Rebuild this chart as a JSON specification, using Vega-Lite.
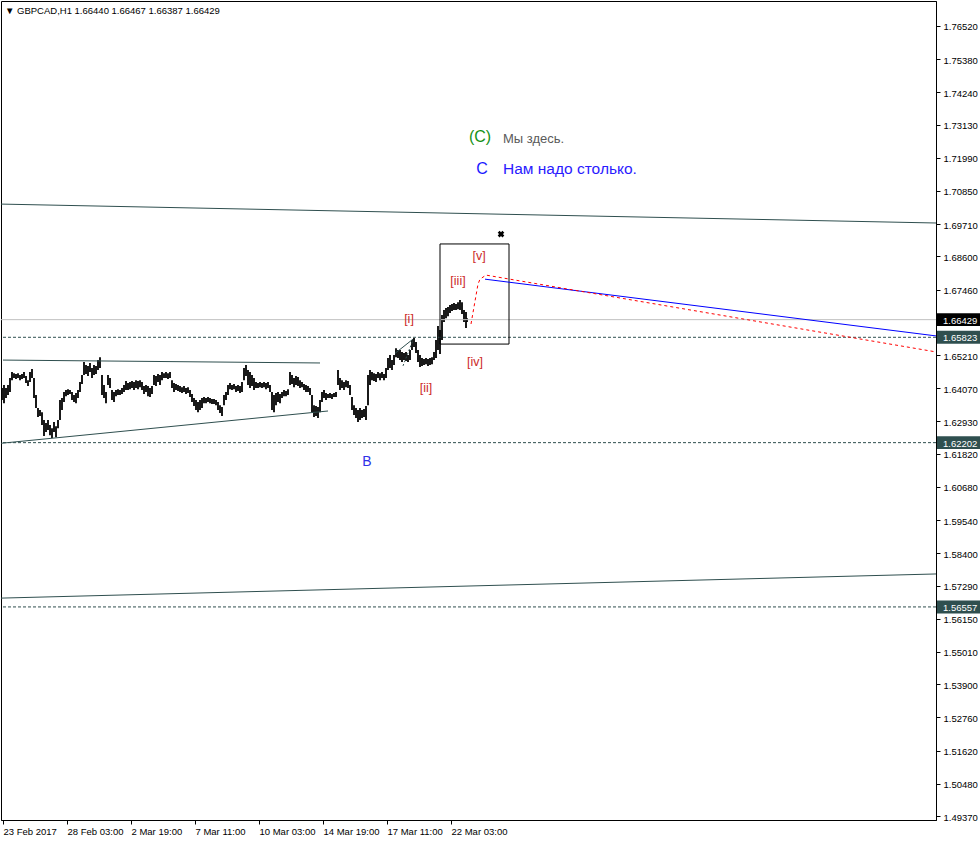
{
  "$schema": "https://vega.github.io/schema/vega-lite/v6.json",
  "width": 935,
  "height": 819,
  "autosize": {"type": "none"},
  "padding": {"left": 1, "top": 1, "right": 44, "bottom": 21},
  "background": "white",
  "config": {
    "view": {"stroke": "black", "strokeWidth": 1},
    "font": "Liberation Sans",
    "axis": {"labelOverlap": false, "labelBound": false, "labelFlush": false, "grid": false, "title": null, "tickColor": "black", "domainColor": "black", "labelColor": "black", "labelFont": "Liberation Sans", "labelFontSize": 9.5, "tickSize": 4}
  },
  "title": {"text": "▼ GBPCAD,H1  1.66440 1.66467 1.66387 1.66429", "anchor": "start", "frame": "group", "orient": "top", "offset": -14, "dx": 4, "fontSize": 9.5, "fontWeight": "normal", "font": "Liberation Sans", "color": "black"},
  "datasets": {
    "bars": [
      {"t":-1,"hi":1.6408,"lo":1.6367},{"t":1,"hi":1.6418,"lo":1.6356},{"t":3,"hi":1.6408,"lo":1.6374},{"t":5,"hi":1.6418,"lo":1.6384},
      {"t":7,"hi":1.6442,"lo":1.6394},{"t":9,"hi":1.6463,"lo":1.6435},{"t":11,"hi":1.6459,"lo":1.6442},{"t":13,"hi":1.6456,"lo":1.6439},
      {"t":15,"hi":1.6459,"lo":1.6442},{"t":17,"hi":1.6453,"lo":1.6435},{"t":19,"hi":1.6456,"lo":1.6439},{"t":21,"hi":1.6463,"lo":1.6442},
      {"t":23,"hi":1.6449,"lo":1.6425},{"t":25,"hi":1.6435,"lo":1.6415},{"t":27,"hi":1.6463,"lo":1.6429},{"t":29,"hi":1.6473,"lo":1.6442},
      {"t":31,"hi":1.6442,"lo":1.6374},{"t":33,"hi":1.6384,"lo":1.6339},{"t":35,"hi":1.6339,"lo":1.6308},{"t":37,"hi":1.6332,"lo":1.6312},
      {"t":39,"hi":1.6325,"lo":1.6281},{"t":41,"hi":1.6298,"lo":1.6243},{"t":43,"hi":1.6288,"lo":1.6257},{"t":45,"hi":1.6298,"lo":1.6264},
      {"t":47,"hi":1.6281,"lo":1.6246},{"t":49,"hi":1.6270,"lo":1.6236},{"t":51,"hi":1.6291,"lo":1.6257},{"t":53,"hi":1.6277,"lo":1.6239},
      {"t":55,"hi":1.6298,"lo":1.6270},{"t":57,"hi":1.6367,"lo":1.6298},{"t":59,"hi":1.6374,"lo":1.6332},{"t":61,"hi":1.6394,"lo":1.6360},
      {"t":63,"hi":1.6401,"lo":1.6380},{"t":65,"hi":1.6404,"lo":1.6384},{"t":67,"hi":1.6401,"lo":1.6387},{"t":69,"hi":1.6394,"lo":1.6367},
      {"t":71,"hi":1.6384,"lo":1.6360},{"t":73,"hi":1.6391,"lo":1.6356},{"t":75,"hi":1.6401,"lo":1.6374},{"t":77,"hi":1.6429,"lo":1.6394},
      {"t":79,"hi":1.6453,"lo":1.6422},{"t":81,"hi":1.6497,"lo":1.6453},{"t":83,"hi":1.6487,"lo":1.6456},{"t":85,"hi":1.6484,"lo":1.6449},
      {"t":87,"hi":1.6494,"lo":1.6463},{"t":89,"hi":1.6477,"lo":1.6442},{"t":91,"hi":1.6487,"lo":1.6453},{"t":93,"hi":1.6484,"lo":1.6456},
      {"t":95,"hi":1.6504,"lo":1.6470},{"t":97,"hi":1.6514,"lo":1.6477},{"t":99,"hi":1.6453,"lo":1.6384},{"t":101,"hi":1.6418,"lo":1.6374},
      {"t":103,"hi":1.6394,"lo":1.6356},{"t":105,"hi":1.6453,"lo":1.6418},{"t":107,"hi":1.6442,"lo":1.6408},{"t":109,"hi":1.6401,"lo":1.6367},
      {"t":111,"hi":1.6394,"lo":1.6360},{"t":113,"hi":1.6401,"lo":1.6380},{"t":115,"hi":1.6404,"lo":1.6384},{"t":117,"hi":1.6401,"lo":1.6384},
      {"t":119,"hi":1.6408,"lo":1.6387},{"t":121,"hi":1.6418,"lo":1.6394},{"t":123,"hi":1.6432,"lo":1.6401},{"t":125,"hi":1.6425,"lo":1.6401},
      {"t":127,"hi":1.6429,"lo":1.6404},{"t":129,"hi":1.6432,"lo":1.6408},{"t":131,"hi":1.6429,"lo":1.6401},{"t":133,"hi":1.6435,"lo":1.6408},
      {"t":135,"hi":1.6432,"lo":1.6404},{"t":137,"hi":1.6435,"lo":1.6411},{"t":139,"hi":1.6429,"lo":1.6401},{"t":141,"hi":1.6415,"lo":1.6387},
      {"t":143,"hi":1.6418,"lo":1.6394},{"t":145,"hi":1.6415,"lo":1.6380},{"t":147,"hi":1.6408,"lo":1.6377},{"t":149,"hi":1.6415,"lo":1.6387},
      {"t":151,"hi":1.6453,"lo":1.6418},{"t":153,"hi":1.6449,"lo":1.6415},{"t":155,"hi":1.6456,"lo":1.6429},{"t":157,"hi":1.6453,"lo":1.6418},
      {"t":159,"hi":1.6463,"lo":1.6435},{"t":161,"hi":1.6459,"lo":1.6442},{"t":163,"hi":1.6463,"lo":1.6442},{"t":165,"hi":1.6459,"lo":1.6439},
      {"t":167,"hi":1.6463,"lo":1.6442},{"t":169,"hi":1.6435,"lo":1.6408},{"t":171,"hi":1.6425,"lo":1.6394},{"t":173,"hi":1.6422,"lo":1.6401},
      {"t":175,"hi":1.6418,"lo":1.6398},{"t":177,"hi":1.6415,"lo":1.6394},{"t":179,"hi":1.6411,"lo":1.6391},{"t":181,"hi":1.6415,"lo":1.6394},
      {"t":183,"hi":1.6408,"lo":1.6387},{"t":185,"hi":1.6411,"lo":1.6391},{"t":187,"hi":1.6401,"lo":1.6377},{"t":189,"hi":1.6387,"lo":1.6360},
      {"t":191,"hi":1.6374,"lo":1.6346},{"t":193,"hi":1.6367,"lo":1.6332},{"t":195,"hi":1.6360,"lo":1.6325},{"t":197,"hi":1.6367,"lo":1.6332},
      {"t":199,"hi":1.6374,"lo":1.6339},{"t":201,"hi":1.6377,"lo":1.6356},{"t":203,"hi":1.6374,"lo":1.6356},{"t":205,"hi":1.6377,"lo":1.6360},
      {"t":207,"hi":1.6374,"lo":1.6356},{"t":209,"hi":1.6370,"lo":1.6353},{"t":211,"hi":1.6370,"lo":1.6353},{"t":213,"hi":1.6367,"lo":1.6349},
      {"t":215,"hi":1.6360,"lo":1.6332},{"t":217,"hi":1.6349,"lo":1.6322},{"t":219,"hi":1.6343,"lo":1.6312},{"t":221,"hi":1.6384,"lo":1.6349},
      {"t":223,"hi":1.6394,"lo":1.6367},{"t":225,"hi":1.6418,"lo":1.6384},{"t":227,"hi":1.6425,"lo":1.6404},{"t":229,"hi":1.6418,"lo":1.6401},
      {"t":231,"hi":1.6422,"lo":1.6404},{"t":233,"hi":1.6415,"lo":1.6394},{"t":235,"hi":1.6418,"lo":1.6398},{"t":237,"hi":1.6415,"lo":1.6391},
      {"t":239,"hi":1.6429,"lo":1.6394},{"t":241,"hi":1.6477,"lo":1.6435},{"t":243,"hi":1.6487,"lo":1.6449},{"t":245,"hi":1.6470,"lo":1.6418},
      {"t":247,"hi":1.6463,"lo":1.6408},{"t":249,"hi":1.6453,"lo":1.6415},{"t":251,"hi":1.6442,"lo":1.6401},{"t":253,"hi":1.6429,"lo":1.6408},
      {"t":255,"hi":1.6425,"lo":1.6408},{"t":257,"hi":1.6429,"lo":1.6411},{"t":259,"hi":1.6425,"lo":1.6408},{"t":261,"hi":1.6429,"lo":1.6411},
      {"t":263,"hi":1.6425,"lo":1.6404},{"t":265,"hi":1.6429,"lo":1.6408},{"t":267,"hi":1.6418,"lo":1.6394},{"t":269,"hi":1.6394,"lo":1.6332},
      {"t":271,"hi":1.6384,"lo":1.6325},{"t":273,"hi":1.6391,"lo":1.6349},{"t":275,"hi":1.6394,"lo":1.6360},{"t":277,"hi":1.6387,"lo":1.6356},
      {"t":279,"hi":1.6394,"lo":1.6374},{"t":281,"hi":1.6401,"lo":1.6380},{"t":283,"hi":1.6398,"lo":1.6380},{"t":285,"hi":1.6404,"lo":1.6384},
      {"t":287,"hi":1.6463,"lo":1.6418},{"t":289,"hi":1.6453,"lo":1.6422},{"t":291,"hi":1.6442,"lo":1.6411},{"t":293,"hi":1.6449,"lo":1.6418},
      {"t":295,"hi":1.6446,"lo":1.6415},{"t":297,"hi":1.6435,"lo":1.6408},{"t":299,"hi":1.6429,"lo":1.6411},{"t":301,"hi":1.6422,"lo":1.6401},
      {"t":303,"hi":1.6418,"lo":1.6394},{"t":305,"hi":1.6415,"lo":1.6394},{"t":307,"hi":1.6408,"lo":1.6384},{"t":309,"hi":1.6384,"lo":1.6325},
      {"t":311,"hi":1.6349,"lo":1.6308},{"t":313,"hi":1.6346,"lo":1.6312},{"t":315,"hi":1.6343,"lo":1.6305},{"t":317,"hi":1.6367,"lo":1.6325},
      {"t":319,"hi":1.6394,"lo":1.6360},{"t":321,"hi":1.6401,"lo":1.6374},{"t":323,"hi":1.6391,"lo":1.6367},{"t":325,"hi":1.6387,"lo":1.6374},
      {"t":327,"hi":1.6391,"lo":1.6374},{"t":329,"hi":1.6387,"lo":1.6370},{"t":331,"hi":1.6391,"lo":1.6377},{"t":333,"hi":1.6394,"lo":1.6377},
      {"t":335,"hi":1.6470,"lo":1.6418},{"t":337,"hi":1.6442,"lo":1.6401},{"t":339,"hi":1.6435,"lo":1.6408},{"t":341,"hi":1.6429,"lo":1.6401},
      {"t":343,"hi":1.6435,"lo":1.6411},{"t":345,"hi":1.6432,"lo":1.6408},{"t":347,"hi":1.6418,"lo":1.6384},{"t":349,"hi":1.6377,"lo":1.6332},
      {"t":351,"hi":1.6349,"lo":1.6315},{"t":353,"hi":1.6339,"lo":1.6305},{"t":355,"hi":1.6332,"lo":1.6291},{"t":357,"hi":1.6339,"lo":1.6298},
      {"t":359,"hi":1.6332,"lo":1.6305},{"t":361,"hi":1.6336,"lo":1.6308},{"t":363,"hi":1.6346,"lo":1.6298},{"t":365,"hi":1.6453,"lo":1.6349},
      {"t":367,"hi":1.6470,"lo":1.6418},{"t":369,"hi":1.6463,"lo":1.6435},{"t":371,"hi":1.6459,"lo":1.6432},{"t":373,"hi":1.6456,"lo":1.6429},
      {"t":375,"hi":1.6463,"lo":1.6442},{"t":377,"hi":1.6459,"lo":1.6435},{"t":379,"hi":1.6463,"lo":1.6442},{"t":381,"hi":1.6456,"lo":1.6435},
      {"t":383,"hi":1.6477,"lo":1.6442},{"t":385,"hi":1.6511,"lo":1.6470},{"t":387,"hi":1.6521,"lo":1.6477},{"t":389,"hi":1.6504,"lo":1.6470},
      {"t":391,"hi":1.6521,"lo":1.6487},{"t":393,"hi":1.6545,"lo":1.6514},{"t":395,"hi":1.6539,"lo":1.6511},{"t":397,"hi":1.6539,"lo":1.6504},
      {"t":399,"hi":1.6532,"lo":1.6497},{"t":401,"hi":1.6528,"lo":1.6504},{"t":403,"hi":1.6532,"lo":1.6501},{"t":405,"hi":1.6521,"lo":1.6497},
      {"t":407,"hi":1.6539,"lo":1.6504},{"t":409,"hi":1.6573,"lo":1.6539},{"t":411,"hi":1.6580,"lo":1.6549},{"t":413,"hi":1.6566,"lo":1.6528},
      {"t":415,"hi":1.6539,"lo":1.6497},{"t":417,"hi":1.6521,"lo":1.6480},{"t":419,"hi":1.6511,"lo":1.6484},{"t":421,"hi":1.6508,"lo":1.6487},
      {"t":423,"hi":1.6511,"lo":1.6490},{"t":425,"hi":1.6508,"lo":1.6484},{"t":427,"hi":1.6511,"lo":1.6487},{"t":429,"hi":1.6514,"lo":1.6490},
      {"t":431,"hi":1.6532,"lo":1.6504},{"t":433,"hi":1.6573,"lo":1.6511},{"t":435,"hi":1.6621,"lo":1.6539},{"t":437,"hi":1.6607,"lo":1.6525},
      {"t":439,"hi":1.6659,"lo":1.6573},{"t":441,"hi":1.6676,"lo":1.6635},{"t":443,"hi":1.6683,"lo":1.6648},{"t":445,"hi":1.6686,"lo":1.6655},
      {"t":447,"hi":1.6693,"lo":1.6666},{"t":449,"hi":1.6697,"lo":1.6673},{"t":451,"hi":1.6700,"lo":1.6676},{"t":453,"hi":1.6697,"lo":1.6676},
      {"t":455,"hi":1.6703,"lo":1.6679},{"t":457,"hi":1.6710,"lo":1.6676},{"t":459,"hi":1.6703,"lo":1.6662},{"t":461,"hi":1.6676,"lo":1.6635},
      {"t":463,"hi":1.6669,"lo":1.6614},{"t":464,"hi":1.6648,"lo":1.6635}
    ],
    "trend": [
      {"id":"channel_top","t":-2,"p":1.7040},{"id":"channel_top","t":933,"p":1.6975},
      {"id":"channel_bottom","t":-2,"p":1.5686},{"id":"channel_bottom","t":933,"p":1.5769},
      {"id":"tri_upper","t":0,"p":1.6504},{"id":"tri_upper","t":317,"p":1.6494},
      {"id":"tri_lower","t":-2,"p":1.6218},{"id":"tri_lower","t":325,"p":1.6329},
      {"id":"wave_i","t":392,"p":1.6527},{"id":"wave_i","t":410,"p":1.6576}
    ],
    "trendDashed": [
      {"id":"wave_i_d","t":400,"p":1.6484},{"id":"wave_i_d","t":410,"p":1.6573}
    ],
    "levels": [{"p":1.65823},{"p":1.62202},{"p":1.56557}],
    "current": [{"p":1.66429}],
    "target": [{"t":482,"p":1.6782},{"t":933,"p":1.6587}],
    "path": [{"t":468,"p":1.6628},{"t":475,"p":1.6765},{"t":477,"p":1.6782},{"t":483,"p":1.6796},{"t":933,"p":1.6532}],
    "box": [{"t":437,"t2":506,"p":1.6903,"p2":1.6559}],
    "cross": [{"t":498,"p":1.6937}],
    "waves": [
      {"t":406,"p":1.6645,"label":"[i]"},
      {"t":423,"p":1.6408,"label":"[ii]"},
      {"t":455,"p":1.6776,"label":"[iii]"},
      {"t":472,"p":1.6497,"label":"[iv]"},
      {"t":476,"p":1.6861,"label":"[v]"}
    ],
    "noteC1": [{"t":477,"p":1.7271,"label":"(C)"}],
    "noteC1text": [{"t":500,"p":1.7264,"label":"Мы здесь."}],
    "noteC2": [{"t":479,"p":1.7161,"label":"C"}],
    "noteC2text": [{"t":500,"p":1.7161,"label":"Нам надо столько."}],
    "noteB": [{"t":364,"p":1.6154,"label":"B"}],
    "priceTagCurrent": [{"p":1.66429}],
    "priceTags": [{"p":1.65823},{"p":1.62202},{"p":1.56557}]
  },
  "layer": [
    {
      "data": {"name": "bars"},
      "mark": {"type": "rule", "color": "black", "strokeWidth": 1.8},
      "encoding": {
        "x": {"field": "t", "type": "quantitative", "scale": {"domain": [-2, 933], "nice": false, "zero": false},
          "axis": {"orient": "bottom", "values": [0, 64, 128, 192, 256, 320, 384, 448], "tickCount": 40,
            "labelExpr": "datum.value == 0 ? '23 Feb 2017' : datum.value == 64 ? '28 Feb 03:00' : datum.value == 128 ? '2 Mar 19:00' : datum.value == 192 ? '7 Mar 11:00' : datum.value == 256 ? '10 Mar 03:00' : datum.value == 320 ? '14 Mar 19:00' : datum.value == 384 ? '17 Mar 11:00' : '22 Mar 03:00'",
            "labelAlign": "left", "labelBaseline": "top", "labelPadding": 2, "labelOverlap": false, "labelDx": 1}},
        "y": {"field": "hi", "type": "quantitative", "scale": {"domain": [1.49235, 1.77379], "nice": false, "zero": false},
          "axis": {"orient": "right", "values": [1.7652, 1.7538, 1.7424, 1.7313, 1.7199, 1.7085, 1.6971, 1.686, 1.6746, 1.6521, 1.6407, 1.6293, 1.6182, 1.6068, 1.5954, 1.584, 1.5729, 1.5615, 1.5501, 1.539, 1.5276, 1.5162, 1.5048, 1.4937],
            "tickCount": 60, "format": ".5f", "labelPadding": 3, "labelOverlap": false, "labelOffset": 1}},
        "y2": {"field": "lo"}
      }
    },
    {
      "data": {"name": "current"},
      "mark": {"type": "rule", "color": "#c0c0c0", "strokeWidth": 1},
      "encoding": {"y": {"field": "p", "type": "quantitative", "scale": {"domain": [1.49235, 1.77379], "nice": false, "zero": false}}}
    },
    {
      "data": {"name": "levels"},
      "mark": {"type": "rule", "color": "#2f4f4f", "strokeWidth": 1, "strokeDash": [3, 2]},
      "encoding": {"y": {"field": "p", "type": "quantitative", "scale": {"domain": [1.49235, 1.77379], "nice": false, "zero": false}}}
    },
    {
      "data": {"name": "trend"},
      "mark": {"type": "line", "color": "#2f4f4f", "strokeWidth": 1},
      "encoding": {
        "x": {"field": "t", "type": "quantitative", "scale": {"domain": [-2, 933], "nice": false, "zero": false}},
        "y": {"field": "p", "type": "quantitative", "scale": {"domain": [1.49235, 1.77379], "nice": false, "zero": false}},
        "detail": {"field": "id", "type": "nominal"}
      }
    },
    {
      "data": {"name": "trendDashed"},
      "mark": {"type": "line", "color": "#2f4f4f", "strokeWidth": 1, "strokeDash": [2, 2]},
      "encoding": {
        "x": {"field": "t", "type": "quantitative", "scale": {"domain": [-2, 933], "nice": false, "zero": false}},
        "y": {"field": "p", "type": "quantitative", "scale": {"domain": [1.49235, 1.77379], "nice": false, "zero": false}},
        "detail": {"field": "id", "type": "nominal"}
      }
    },
    {
      "data": {"name": "box"},
      "mark": {"type": "rect", "filled": false, "stroke": "black", "strokeWidth": 1, "fill": null},
      "encoding": {
        "x": {"field": "t", "type": "quantitative", "scale": {"domain": [-2, 933], "nice": false, "zero": false}},
        "x2": {"field": "t2"},
        "y": {"field": "p", "type": "quantitative", "scale": {"domain": [1.49235, 1.77379], "nice": false, "zero": false}},
        "y2": {"field": "p2"}
      }
    },
    {
      "data": {"name": "target"},
      "mark": {"type": "line", "color": "#0000ff", "strokeWidth": 1},
      "encoding": {
        "x": {"field": "t", "type": "quantitative", "scale": {"domain": [-2, 933], "nice": false, "zero": false}},
        "y": {"field": "p", "type": "quantitative", "scale": {"domain": [1.49235, 1.77379], "nice": false, "zero": false}}
      }
    },
    {
      "data": {"name": "path"},
      "mark": {"type": "line", "color": "#ff0000", "strokeWidth": 1, "strokeDash": [3, 3]},
      "encoding": {
        "x": {"field": "t", "type": "quantitative", "scale": {"domain": [-2, 933], "nice": false, "zero": false}},
        "y": {"field": "p", "type": "quantitative", "scale": {"domain": [1.49235, 1.77379], "nice": false, "zero": false}}
      }
    },
    {
      "data": {"name": "cross"},
      "mark": {"type": "point", "shape": "cross", "angle": 45, "filled": true, "color": "black", "size": 45, "opacity": 1},
      "encoding": {
        "x": {"field": "t", "type": "quantitative", "scale": {"domain": [-2, 933], "nice": false, "zero": false}},
        "y": {"field": "p", "type": "quantitative", "scale": {"domain": [1.49235, 1.77379], "nice": false, "zero": false}}
      }
    },
    {
      "data": {"name": "waves"},
      "mark": {"type": "text", "color": "#cc2a2a", "fontSize": 12.5, "font": "Liberation Sans"},
      "encoding": {
        "x": {"field": "t", "type": "quantitative", "scale": {"domain": [-2, 933], "nice": false, "zero": false}},
        "y": {"field": "p", "type": "quantitative", "scale": {"domain": [1.49235, 1.77379], "nice": false, "zero": false}},
        "text": {"field": "label"}
      }
    },
    {
      "data": {"name": "noteC1"},
      "mark": {"type": "text", "color": "#149114", "fontSize": 16, "font": "Liberation Sans"},
      "encoding": {
        "x": {"field": "t", "type": "quantitative", "scale": {"domain": [-2, 933], "nice": false, "zero": false}},
        "y": {"field": "p", "type": "quantitative", "scale": {"domain": [1.49235, 1.77379], "nice": false, "zero": false}},
        "text": {"field": "label"}
      }
    },
    {
      "data": {"name": "noteC1text"},
      "mark": {"type": "text", "color": "#5a5a5a", "fontSize": 13, "font": "Liberation Sans", "align": "left"},
      "encoding": {
        "x": {"field": "t", "type": "quantitative", "scale": {"domain": [-2, 933], "nice": false, "zero": false}},
        "y": {"field": "p", "type": "quantitative", "scale": {"domain": [1.49235, 1.77379], "nice": false, "zero": false}},
        "text": {"field": "label"}
      }
    },
    {
      "data": {"name": "noteC2"},
      "mark": {"type": "text", "color": "#1a1aff", "fontSize": 16, "font": "Liberation Sans"},
      "encoding": {
        "x": {"field": "t", "type": "quantitative", "scale": {"domain": [-2, 933], "nice": false, "zero": false}},
        "y": {"field": "p", "type": "quantitative", "scale": {"domain": [1.49235, 1.77379], "nice": false, "zero": false}},
        "text": {"field": "label"}
      }
    },
    {
      "data": {"name": "noteC2text"},
      "mark": {"type": "text", "color": "#2a1aff", "fontSize": 15.5, "font": "Liberation Sans", "align": "left"},
      "encoding": {
        "x": {"field": "t", "type": "quantitative", "scale": {"domain": [-2, 933], "nice": false, "zero": false}},
        "y": {"field": "p", "type": "quantitative", "scale": {"domain": [1.49235, 1.77379], "nice": false, "zero": false}},
        "text": {"field": "label"}
      }
    },
    {
      "data": {"name": "noteB"},
      "mark": {"type": "text", "color": "#3030e8", "fontSize": 14, "font": "Liberation Sans"},
      "encoding": {
        "x": {"field": "t", "type": "quantitative", "scale": {"domain": [-2, 933], "nice": false, "zero": false}},
        "y": {"field": "p", "type": "quantitative", "scale": {"domain": [1.49235, 1.77379], "nice": false, "zero": false}},
        "text": {"field": "label"}
      }
    },
    {
      "data": {"name": "priceTagCurrent"},
      "mark": {"type": "point", "shape": "M-1,-0.3L1,-0.3L1,0.3L-1,0.3Z", "filled": true, "color": "black", "opacity": 1, "size": 1849, "clip": false},
      "encoding": {
        "x": {"datum": 955.5, "type": "quantitative", "scale": {"domain": [-2, 933], "nice": false, "zero": false}},
        "y": {"field": "p", "type": "quantitative", "scale": {"domain": [1.49235, 1.77379], "nice": false, "zero": false}}
      }
    },
    {
      "data": {"name": "priceTags"},
      "mark": {"type": "point", "shape": "M-1,-0.3L1,-0.3L1,0.3L-1,0.3Z", "filled": true, "color": "#2f4f4f", "opacity": 1, "size": 1849, "clip": false},
      "encoding": {
        "x": {"datum": 955.5, "type": "quantitative", "scale": {"domain": [-2, 933], "nice": false, "zero": false}},
        "y": {"field": "p", "type": "quantitative", "scale": {"domain": [1.49235, 1.77379], "nice": false, "zero": false}}
      }
    },
    {
      "data": {"name": "priceTagCurrent"},
      "mark": {"type": "text", "color": "white", "fontSize": 9.5, "font": "Liberation Sans", "align": "left", "clip": false, "dy": 1},
      "encoding": {
        "x": {"datum": 940, "type": "quantitative", "scale": {"domain": [-2, 933], "nice": false, "zero": false}},
        "y": {"field": "p", "type": "quantitative", "scale": {"domain": [1.49235, 1.77379], "nice": false, "zero": false}},
        "text": {"field": "p", "type": "quantitative", "format": ".5f"}
      }
    },
    {
      "data": {"name": "priceTags"},
      "mark": {"type": "text", "color": "white", "fontSize": 9.5, "font": "Liberation Sans", "align": "left", "clip": false, "dy": 1},
      "encoding": {
        "x": {"datum": 940, "type": "quantitative", "scale": {"domain": [-2, 933], "nice": false, "zero": false}},
        "y": {"field": "p", "type": "quantitative", "scale": {"domain": [1.49235, 1.77379], "nice": false, "zero": false}},
        "text": {"field": "p", "type": "quantitative", "format": ".5f"}
      }
    }
  ]
}
